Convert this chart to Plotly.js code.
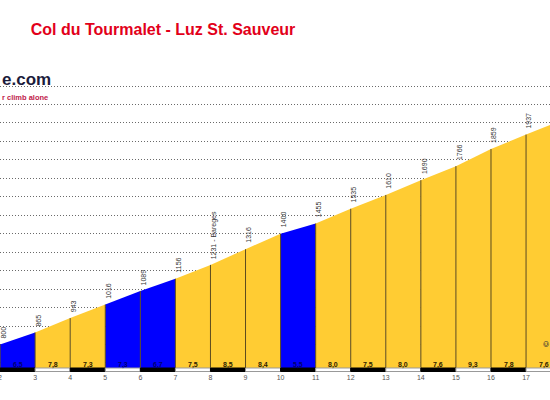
<!DOCTYPE html>
<html><head><meta charset="utf-8">
<script src="https://cdn.plot.ly/plotly-3.0.1.min.js"></script>
<style>html,body{margin:0;padding:0;background:#fff}#chart{width:550px;height:400px}</style>
</head><body><div id="chart"></div>
<script>
// ---- data ----
const kmMarks = [2,3,4,5,6,7,8,9,10,11,12,13,14,15,16,17,18];
const elevations = [800,865,943,1016,1089,1156,1231,1316,1400,1455,1535,1610,1690,1766,1859,1937,2013];
const elevationLabels = ["800","865","943","1016","1089","1156","1231 - Bareges","1316","1400","1455","1535","1610","1690","1766","1859","1937",""];
const gradients = [6.5,7.8,7.3,7.3,6.7,7.5,8.5,8.4,5.5,8.0,7.5,8.0,7.6,9.3,7.8,7.6];
const segmentColors = ["blue","yellow","yellow","blue","blue","yellow","yellow","yellow","blue","yellow","yellow","yellow","yellow","yellow","yellow","yellow"];
const tickValues = [2,3,4,5,6,7,8,9,10,11,12,13,14,15,16,17];
const tickLabels = ["2","3","4","5","6","7","8","9","10","11","12","13","14","15","16","17"];
const titleText = "Col du Tourmalet - Luz St. Sauveur";

// ---- styling / layout ----
const W = 550, H = 400, mT = 77, mB = 28;
const plotH = H - mT - mB;
const yMin = 650.8, yMax = 2248.9;
const ppm = plotH / (yMax - yMin);
const xRange = [1.998, 17.683];
const FILL = {blue: "#0000FF", yellow: "#FFCC33"};
const FONT = "Liberation Sans, Arial, sans-serif";
const py = p => (H - mB - p) / plotH; // pixel y -> paper y

const traces = [];
for (let i = 0; i < gradients.length; i++) {
  const k0 = kmMarks[i], k1 = kmMarks[i+1];
  traces.push({
    type: "scatter", mode: "lines", fill: "toself",
    x: [k0, k0, k1, k1, k0],
    y: [yMin, elevations[i], elevations[i+1], yMin, yMin],
    fillcolor: FILL[segmentColors[i]],
    line: {width: 0, color: FILL[segmentColors[i]]},
    hoverinfo: "skip", showlegend: false
  });
}
// vertical km lines
const vx = [], vy = [];
kmMarks.forEach((k, i) => { vx.push(k, k, null); vy.push(yMin, elevations[i], null); });
traces.push({type: "scatter", mode: "lines", x: vx, y: vy,
  line: {color: "#5c4a1e", width: 1}, hoverinfo: "skip", showlegend: false});

const annotations = [];
kmMarks.forEach((k, i) => {
  if (!elevationLabels[i]) return;
  annotations.push({x: k, y: elevations[i], xref: "x", yref: "y", text: elevationLabels[i],
    textangle: -90, showarrow: false, xanchor: "center", yanchor: "bottom", xshift: 3, yshift: 4,
    font: {family: FONT, size: 7, color: "#333"}});
});
gradients.forEach((g, i) => {
  annotations.push({x: (kmMarks[i] + kmMarks[i+1]) / 2, y: yMin, xref: "x", yref: "y",
    text: g.toFixed(1).replace(".", ","), showarrow: false, xanchor: "center", yanchor: "middle", yshift: 7.5,
    font: {family: FONT, size: 7, color: segmentColors[i] === "blue" ? "#000070" : "#2e2200", weight: "bold"}});
});
annotations.push({x: 0, y: py(80), xref: "paper", yref: "paper", text: "e.com", showarrow: false,
  xanchor: "left", yanchor: "middle", font: {family: FONT, size: 17, color: "#1c1c3c", weight: "bold"}});
annotations.push({x: 0, y: py(97), xref: "paper", yref: "paper", text: "r climb alone", showarrow: false,
  xanchor: "left", yanchor: "middle", font: {family: FONT, size: 7.5, color: "#c0204a", weight: "bold"}});
annotations.push({x: 546 / W, y: py(344), xref: "paper", yref: "paper", text: "©", showarrow: false,
  textangle: -90, xanchor: "center", yanchor: "middle", font: {family: FONT, size: 8, color: "#333", weight: "bold"}});

const shapes = [];
for (let i = 0; i < gradients.length; i++) {
  const dark = i % 2 === 0;
  shapes.push({type: "rect", xref: "x", yref: "y", x0: kmMarks[i], x1: kmMarks[i+1],
    y0: yMin + 0.5 / ppm, y1: yMin + 4 / ppm,
    fillcolor: dark ? "#000" : "#fff", line: {color: dark ? "#000" : "#999", width: 1}});
}

const layout = {
  width: W, height: H, margin: {l: 0, r: 0, t: mT, b: mB, pad: 0},
  paper_bgcolor: "#fff", plot_bgcolor: "#fff", showlegend: false,
  title: {text: titleText, x: 163 / W, xanchor: "center", y: 1 - 29 / H, yanchor: "middle", yref: "container",
    font: {family: FONT, size: 16, color: "#e2001a", weight: "bold"}},
  xaxis: {range: xRange, tickmode: "array", tickvals: tickValues, ticktext: tickLabels,
    showgrid: false, zeroline: false, showline: false, ticks: "", ticklen: 0, ticklabeloverflow: "allow",
    tickfont: {family: FONT, size: 7, color: "#555"}, fixedrange: true},
  yaxis: {range: [yMin, yMax], tick0: 0, dtick: 100, showticklabels: false, ticks: "",
    showgrid: true, gridcolor: "#6a6a6a", gridwidth: 1, griddash: "1px,2px", zeroline: false, showline: false, fixedrange: true},
  annotations: annotations, shapes: shapes
};
Plotly.newPlot("chart", traces, layout, {staticPlot: true, displayModeBar: false});
</script></body></html>
